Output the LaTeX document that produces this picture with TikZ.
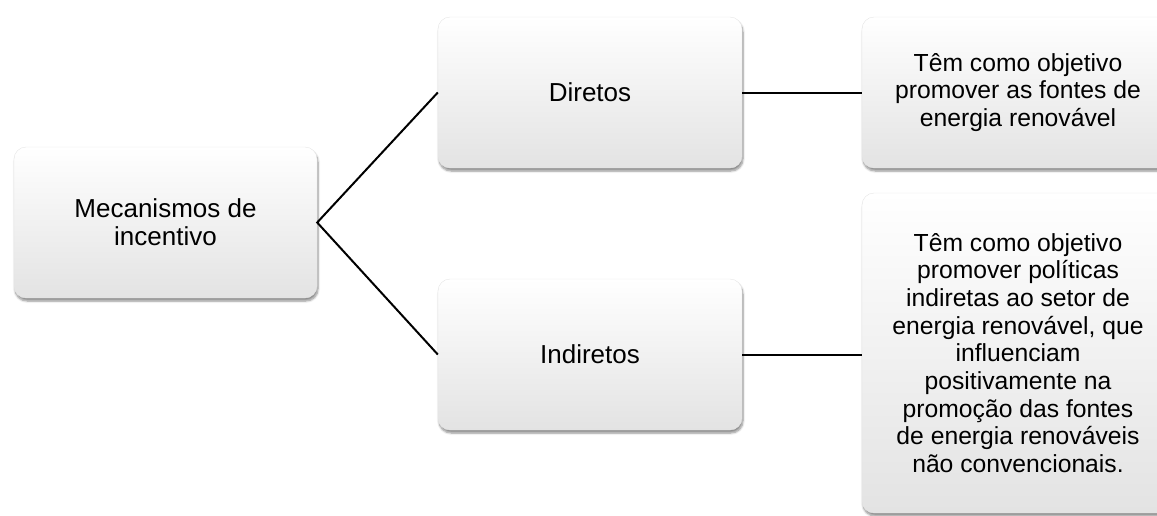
\documentclass[tikz,border=0pt]{standalone}
\usepackage{fontspec}
\setmainfont{Liberation Sans}
\usetikzlibrary{shadows.blur}

\tikzset{
  card/.style={
    rectangle, rounded corners=12pt,
    top color=white, middle color=white, bottom color=black!11,
    draw=black!10, line width=0.4pt,
    blur shadow={shadow xshift=1pt, shadow yshift=-3pt, shadow blur steps=6, shadow opacity=45},
    align=center, inner sep=4pt,
    font=\fontsize{26}{28}\selectfont
  },
  notecard/.style={card, font=\fontsize{24.7}{27.7}\selectfont},
  link/.style={line width=2pt, draw=black}
}

\begin{document}
\begin{tikzpicture}[x=1pt, y=-1pt]
  \useasboundingbox (0,0) rectangle (1157,515);
  \clip (0,0) rectangle (1157,515);

  % hierarchy boxes
  \node[card, minimum width=303pt, minimum height=151pt] (root) at (165.5,222.5)
    {Mecanismos de\\incentivo};
  \node[card, minimum width=304pt, minimum height=151pt] (dir) at (590,92.5)
    {Diretos};
  \node[card, minimum width=304pt, minimum height=151pt] (ind) at (590,354.5)
    {Indiretos};
  \node[notecard, minimum width=312pt, minimum height=151pt] (dirtxt) at (1018,92.5)
    {Têm como objetivo\\promover as fontes de\\energia renovável};
  \node[notecard, minimum width=312pt, minimum height=320pt] (indtxt) at (1018,353)
    {Têm como objetivo\\promover políticas\\indiretas ao setor de\\energia renovável, que\\influenciam\\positivamente na\\promoção das fontes\\de energia renováveis\\não convencionais.};

  % connectors
  \draw[link] (dir.west) -- (root.east) -- (ind.west);
  \draw[link] (dir.east) -- (dir.east -| dirtxt.west);
  \draw[link] (ind.east) -- (ind.east -| indtxt.west);
\end{tikzpicture}
\end{document}
